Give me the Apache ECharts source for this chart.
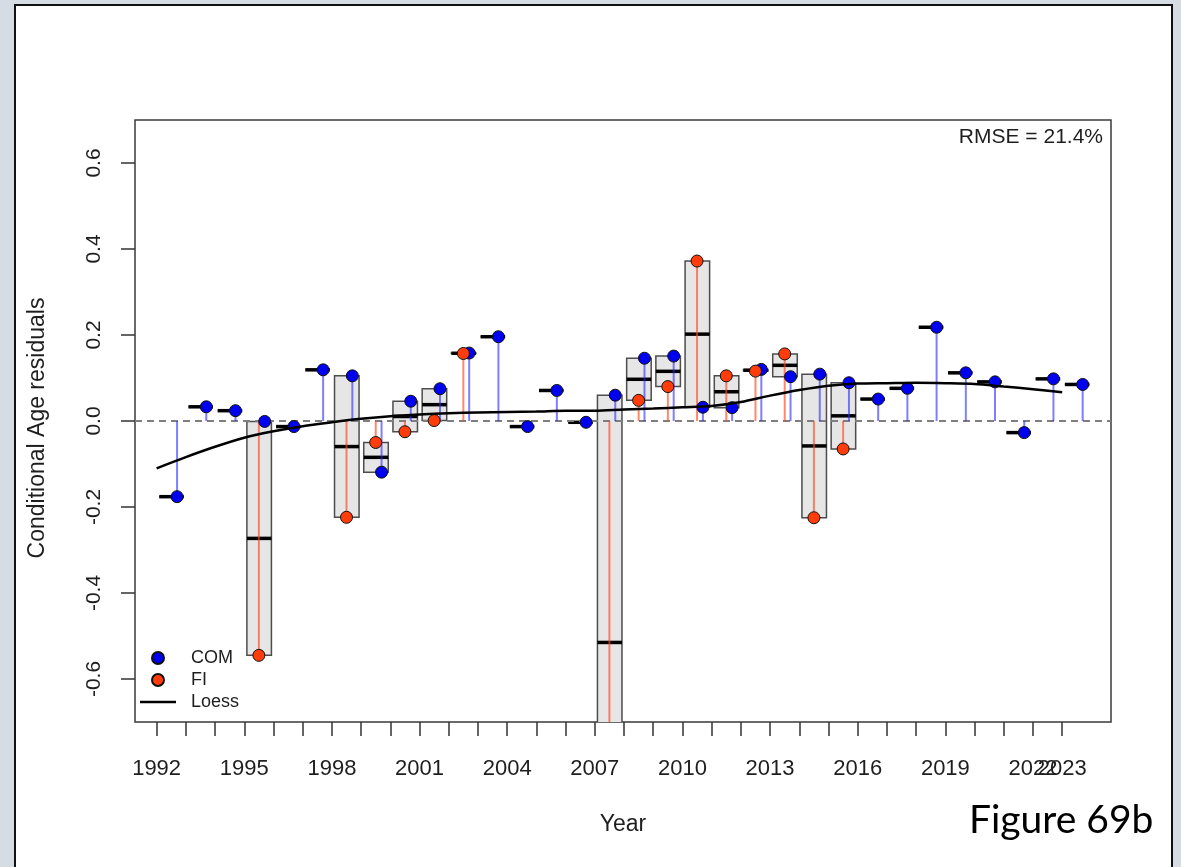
<!DOCTYPE html>
<html>
<head>
<meta charset="utf-8">
<script src="https://cdn.jsdelivr.net/npm/echarts@6/dist/echarts.min.js"></script>
<style>
  html, body { margin: 0; padding: 0; width: 1181px; height: 867px; overflow: hidden; background: #d6dce4; }
  #panel { position: absolute; left: 14px; top: 4px; width: 1155px; height: 900px; background: #fff; border: 2px solid #111; }
  #chart { position: absolute; left: 0; top: 0; width: 1181px; height: 867px; }
</style>
</head>
<body>
<div id="panel"></div>
<div id="chart"></div>
<script>
// ---- data ----
const years = [1992,1993,1994,1995,1996,1997,1998,1999,2000,2001,2002,2003,2004,2005,2006,2007,
               2008,2009,2010,2011,2012,2013,2014,2015,2016,2017,2018,2019,2020,2021,2022,2023];
const comResiduals = [-0.176,0.033,0.024,-0.001,-0.013,0.119,0.105,-0.119,0.046,0.075,0.158,0.196,-0.013,0.071,-0.003,0.060,
                      0.146,0.151,0.032,0.031,0.120,0.103,0.109,0.089,0.051,0.076,0.218,0.112,0.091,-0.027,0.098,0.085];
const fiResiduals = [null,null,null,-0.545,null,null,-0.224,-0.050,-0.025,0.001,0.157,null,null,null,null,-1.09,
                     0.048,0.080,0.372,0.105,0.116,0.156,-0.225,-0.065,null,null,null,null,null,null,null,null];
const loessValues = [-0.110,-0.084,-0.060,-0.039,-0.024,-0.012,-0.003,0.005,0.011,0.015,0.018,0.020,0.021,0.022,0.024,0.024,
                     0.027,0.029,0.032,0.035,0.044,0.059,0.072,0.082,0.087,0.088,0.089,0.088,0.086,0.080,0.074,0.067];
const xTickValues = [1992,1993,1994,1995,1996,1997,1998,1999,2000,2001,2002,2003,2004,2005,2006,2007,
                     2008,2009,2010,2011,2012,2013,2014,2015,2016,2017,2018,2019,2020,2021,2022,2023];
const xLabelValues = [1992,1995,1998,2001,2004,2007,2010,2013,2016,2019,2022];
const xExtraLabelValues = [2023];
const yTickValues = [-0.6,-0.4,-0.2,0,0.2,0.4,0.6];
const rmseText = 'RMSE = 21.4%';

// ---- layout / style constants ----
const COM_OFF = 0.7, FI_OFF = 0.5, BOX_L = 0.09, BOX_R = 0.93;
const X_MIN = 1991.26, X_MAX = 2024.67;
const FONT = "'Liberation Sans', Arial, sans-serif";
const TXT = '#1e1e1e';

const boxData = years.map((y, i) => {
  const vals = [comResiduals[i], fiResiduals[i]].filter(v => v !== null);
  const lo = Math.min(...vals), hi = Math.max(...vals);
  const mid = vals.reduce((a, b) => a + b, 0) / vals.length;
  return [y, lo, hi, mid];
});
const comPts = years.map((y, i) => [y + COM_OFF, comResiduals[i]]);
const fiPts = years.map((y, i) => fiResiduals[i] === null ? null : [y + FI_OFF, fiResiduals[i]]).filter(d => d);
const loessPts = years.map((y, i) => [y, loessValues[i]]);

function clipRect(params) {
  const cs = params.coordSys;
  return { type: 'rect', shape: { x: cs.x, y: cs.y, width: cs.width, height: cs.height } };
}

function stemSeries(name, data, color, z) {
  return {
    name: name + ' stems', type: 'custom', z: z, silent: true, animation: false,
    data: data,
    renderItem: (params, api) => {
      const a = api.coord([api.value(0), 0]);
      const b = api.coord([api.value(0), api.value(1)]);
      return {
        type: 'line', clipPath: clipRect(params),
        shape: { x1: a[0], y1: a[1], x2: b[0], y2: b[1] },
        style: { stroke: color, lineWidth: 2 }
      };
    }
  };
}

const tickStyle = { color: '#333', width: 1.5 };
const xLabelStyle = { fontSize: 22, color: TXT, margin: 36, hideOverlap: false, fontFamily: FONT };

const chart = echarts.init(document.getElementById('chart'), null, { renderer: 'canvas' });
chart.setOption({
  animation: false,
  textStyle: { fontFamily: FONT },
  title: {
    text: rmseText, right: 78, top: 127, padding: 0,
    textStyle: { fontSize: 21, fontWeight: 'normal', color: TXT, fontFamily: FONT }
  },
  grid: { left: 135, top: 120, width: 976, height: 602, show: true, borderColor: '#3a3a3a', borderWidth: 1.5, backgroundColor: 'transparent' },
  xAxis: [{
    type: 'value', min: X_MIN, max: X_MAX, position: 'bottom', offset: 0,
    axisLine: { show: false, onZero: false },
    splitLine: { show: false },
    axisTick: { show: true, customValues: xTickValues, length: 14, lineStyle: tickStyle },
    axisLabel: Object.assign({ customValues: xLabelValues, formatter: v => String(v) }, xLabelStyle),
    name: 'Year', nameLocation: 'middle', nameGap: 91,
    nameTextStyle: { fontSize: 23, color: TXT, fontFamily: FONT }
  }, {
    type: 'value', min: X_MIN, max: X_MAX, position: 'bottom', offset: 0,
    axisLine: { show: false, onZero: false },
    splitLine: { show: false },
    axisTick: { show: true, customValues: xExtraLabelValues, length: 14, lineStyle: tickStyle },
    axisLabel: Object.assign({ customValues: xExtraLabelValues, formatter: v => String(v) }, xLabelStyle)
  }],
  yAxis: {
    type: 'value', min: -0.7, max: 0.7,
    axisLine: { show: false, onZero: false },
    splitLine: { show: false },
    axisTick: { show: true, customValues: yTickValues, length: 14, lineStyle: tickStyle },
    axisLabel: { customValues: yTickValues, formatter: v => (Math.abs(v) < 1e-9 ? 0 : v).toFixed(1), rotate: 90, fontSize: 21, color: TXT, margin: 30, fontFamily: FONT },
    name: 'Conditional Age residuals', nameLocation: 'middle', nameGap: 86, nameRotate: 90,
    nameTextStyle: { fontSize: 23, color: TXT, fontFamily: FONT, padding: [0, 14, 0, 0] }
  },
  legend: {
    orient: 'vertical', left: 140, top: 649, padding: 0, itemWidth: 36, itemHeight: 12, itemGap: 4,
    selectedMode: false,
    data: [
      { name: 'COM', icon: 'circle' },
      { name: 'FI', icon: 'circle' },
      { name: 'Loess', icon: 'path://M0,0 L36,0 L36,2.6 L0,2.6 Z', itemStyle: { color: '#000', borderWidth: 0 } }
    ],
    textStyle: { fontSize: 18, color: TXT, fontFamily: FONT, padding: [0, 0, 0, 10] }
  },
  graphic: [{
    type: 'text', left: 969, top: 801, z: 10,
    style: { text: 'Figure 69b', font: "39px Lato, 'Open Sans', sans-serif", fill: '#000' }
  }],
  series: [
    {
      name: 'boxes', type: 'custom', z: 2, silent: true, animation: false,
      data: boxData,
      renderItem: (params, api) => {
        const yr = api.value(0), lo = api.value(1), hi = api.value(2), mid = api.value(3);
        const p1 = api.coord([yr + BOX_L, hi]);
        const p2 = api.coord([yr + BOX_R, lo]);
        const m1 = api.coord([yr + BOX_L, mid]);
        const m2 = api.coord([yr + BOX_R, mid]);
        return {
          type: 'group', clipPath: clipRect(params),
          children: [
            { type: 'rect', shape: { x: p1[0], y: p1[1], width: p2[0] - p1[0], height: p2[1] - p1[1] },
              style: { fill: '#e6e6e6', stroke: '#4d4d4d', lineWidth: 1.5 } },
            { type: 'line', shape: { x1: m1[0], y1: m1[1], x2: m2[0], y2: m2[1] },
              style: { stroke: '#000', lineWidth: 3.5 } }
          ]
        };
      },
      markLine: {
        silent: true, symbol: ['none', 'none'], animation: false, z: 3,
        label: { show: false },
        lineStyle: { type: [7, 5], color: '#7f7f7f', width: 2 },
        data: [{ yAxis: 0 }]
      }
    },
    stemSeries('FI', fiPts, 'rgba(255,70,30,0.65)', 4),
    stemSeries('COM', comPts, 'rgba(40,40,255,0.6)', 4),
    {
      name: 'COM', type: 'scatter', z: 5, symbol: 'circle', symbolSize: 12,
      data: comPts,
      itemStyle: { color: '#0000f0', borderColor: '#111', borderWidth: 1, opacity: 1 }
    },
    {
      name: 'FI', type: 'scatter', z: 5, symbol: 'circle', symbolSize: 12,
      data: fiPts,
      itemStyle: { color: '#ff3c0a', borderColor: '#111', borderWidth: 1, opacity: 1 }
    },
    {
      name: 'Loess', type: 'line', z: 6, symbol: 'none', smooth: 0.3,
      data: loessPts,
      lineStyle: { color: '#000', width: 2.5 },
      itemStyle: { color: '#000' }
    }
  ]
});
</script>
</body>
</html>
